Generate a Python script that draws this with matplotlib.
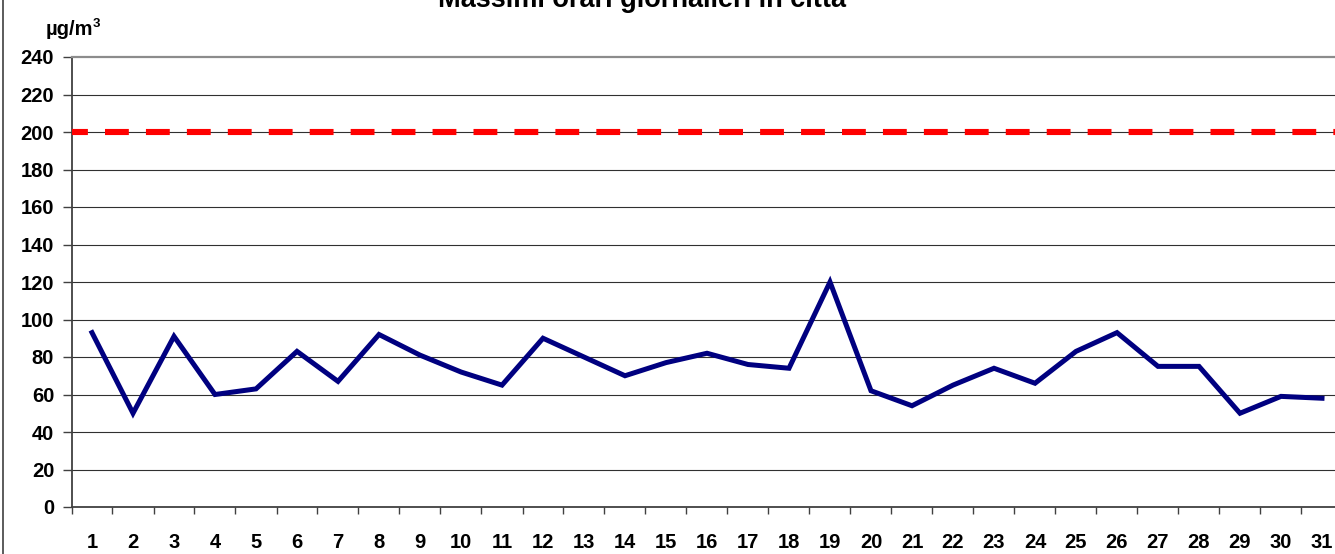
import matplotlib.pyplot as plt
from matplotlib.lines import Line2D
from matplotlib.ticker import FixedLocator

plt.rcParams['font.family'] = ['Liberation Sans', 'DejaVu Sans']

# daily hourly maxima (ug/m3), days 1..31
days = list(range(1, 32))
values = [93, 50, 91, 60, 63, 83, 67, 92, 81, 72, 65, 90, 80, 70, 77, 82,
          76, 74, 120, 62, 54, 65, 74, 66, 83, 93, 75, 75, 50, 59, 58]
limit = 200  # threshold line
title = "Massimi orari giornalieri in città"
yticks = list(range(0, 241, 20))

W, H = 1335, 554
fig = plt.figure(figsize=(W / 100, H / 100), dpi=100)
# plot area runs past the right edge, like the source image
ax = fig.add_axes([71.5 / W, 47 / H, 1271 / W, 450 / H])

ax.plot(days, values, color='#000080', lw=3.6, solid_joinstyle='miter', zorder=4)
# dash 24px, gap 17px at lw ~6px
ax.axhline(limit, color='#ff0000', lw=4.4, ls=(1.3, (3.9, 2.8)), zorder=3)

ax.set_xlim(0.5, 31.5)
ax.set_ylim(0, 240)
ax.set_yticks(yticks)
ax.set_xticks(days)
ax.xaxis.set_minor_locator(FixedLocator([d + 0.5 for d in range(0, 31)]))

for y in yticks[1:-1]:
    ax.axhline(y, color='#303030', lw=0.8, zorder=1)

ax.tick_params(axis='x', which='major', length=0, pad=19, labelsize=14.5)
ax.tick_params(axis='x', which='minor', length=5, width=1, color='#404040', direction='out')
ax.tick_params(axis='y', length=6.5, width=1, color='#404040', pad=6, labelsize=14.5)
for lab in ax.get_xticklabels() + ax.get_yticklabels():
    lab.set_fontweight('bold')

ax.spines['left'].set_color('#404040')
ax.spines['left'].set_linewidth(1.3)
ax.spines['bottom'].set_color('#404040')
ax.spines['bottom'].set_linewidth(1.3)
ax.spines['top'].set_color('#8c8c8c')
ax.spines['top'].set_linewidth(1.6)
ax.spines['right'].set_visible(False)

fig.text(642 / W, 1 - 7 / H, title, ha='center', va='baseline',
         fontsize=19.5, fontweight='bold')
fig.text(46 / W, 1 - 35 / H, "µg/m", ha='left', va='baseline',
         fontsize=14.5, fontweight='bold')
fig.text(92.5 / W, 1 - 27 / H, "3", ha='left', va='baseline',
         fontsize=9.5, fontweight='bold')

# left frame line of the chart object
fig.add_artist(Line2D([2.5 / W, 2.5 / W], [0, 1], color='#404040', lw=1.2))

fig.savefig('out.png', dpi=100)
